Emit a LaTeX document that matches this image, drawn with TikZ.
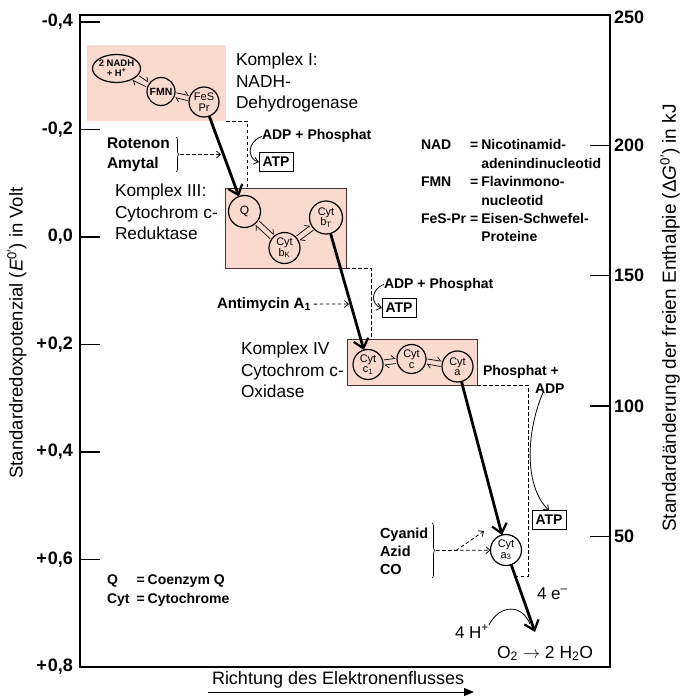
\documentclass[tikz,border=0pt]{standalone}
\usepackage{fontspec}
\setmainfont{Liberation Sans}
\usetikzlibrary{arrows.meta,decorations.pathreplacing,shapes.geometric}
\definecolor{pinkfill}{RGB}{250,217,207}
\definecolor{boxline}{RGB}{70,50,50}
\begin{document}
\begin{tikzpicture}[x=1pt,y=-1pt,
  every node/.style={inner sep=0pt,outer sep=0pt},
  kbox/.style={rectangle, fill=pinkfill, draw=boxline, line width=0.9pt},
  mol/.style={circle, draw, line width=1.2pt, inner sep=0pt, align=center, font=\fontsize{11}{10.5}\selectfont},
  flow/.style={line width=2.8pt, -{Straight Barb[length=9pt,width=15pt,line width=2.2pt]}},
  eqh/.style={line width=0.7pt, -{Straight Barb[harpoon,length=3.5pt,width=7pt,line width=0.7pt]}, shorten <=1.5pt, shorten >=1.5pt},
  dline/.style={line width=0.8pt, dash pattern=on 3.5pt off 2.5pt},
  darrow/.style={dline, -{Straight Barb[length=4pt,width=7pt,line width=0.8pt]}},
  thinarrow/.style={line width=0.8pt, -{Straight Barb[length=4.5pt,width=7pt,line width=0.8pt]}},
  boldlab/.style={font=\fontsize{14}{18}\selectfont\bfseries},
  komp/.style={font=\fontsize{17.3}{21.5}\selectfont, align=left},
  atpbox/.style={draw, line width=0.9pt, minimum width=34pt, minimum height=19pt, font=\fontsize{14}{14}\selectfont\bfseries},
  axtick/.style={line width=1.1pt},
  ticklab/.style={font=\fontsize{18}{18}\selectfont\bfseries},
  bracestyle/.style={decorate, decoration={brace, amplitude=3pt}, line width=0.6pt}
]
\useasboundingbox (0,0) rectangle (685,700);

% frame
\draw[line width=1.2pt] (80,15) rectangle (610,667);

% left ticks
\foreach \y/\l [count=\i] in {22/{-0,4},129.5/{-0,2},237/{0,0},344.5/{+\kern1pt0,2},452/{+\kern1pt0,4},559.5/{+\kern1pt0,6},667/{+\kern1pt0,8}} {
  \draw[axtick] (80,\y) -- (100,\y);
  \node[ticklab, anchor=east] (lt\i) at (73,\y) {\l};
}
% right ticks
\node[ticklab, anchor=west] (rt0) at (614,17) {250};
\foreach \y/\l [count=\i] in {145.3/200,275.7/150,406/100,536.4/50} {
  \draw[axtick] (590,\y) -- (610,\y);
  \node[ticklab, anchor=west] (rt\i) at (614,\y) {\l};
}

% axis titles
\node[rotate=90, font=\fontsize{18.5}{20}\selectfont] (ylab) at (17,333) {Standardredoxpotenzial (\textit{E}\textsuperscript{0′}) in Volt};
\node[rotate=90, font=\fontsize{19}{20}\selectfont] (ylab2) at (670,318) {Standardänderung der freien Enthalpie (Δ\textit{G}\textsuperscript{0′}) in kJ};

% complex boxes
\node[kbox, draw=none, minimum width=139pt, minimum height=76pt] (k1box) at (156.5,83) {};
\node[kbox, minimum width=121pt, minimum height=80pt] (k3box) at (285.5,228) {};
\node[kbox, minimum width=130pt, minimum height=46pt] (k4box) at (412,362) {};

% molecules
\node[ellipse, draw, line width=1.2pt, minimum width=48pt, minimum height=28pt, inner sep=-2.5pt, align=center, font=\fontsize{9.5}{10}\selectfont\bfseries] (nadh) at (116.5,68.5) {2 NADH\\+ H\textsuperscript{+}};
\node[mol, minimum size=28pt, font=\fontsize{10.5}{10.5}\selectfont\bfseries] (fmn) at (161,91.5) {FMN};
\node[mol, minimum size=30pt] (fes) at (204,102) {FeS\\Pr};
\node[mol, minimum size=32pt, font=\fontsize{12}{12}\selectfont] (q) at (244.5,211.5) {Q};
\node[mol, minimum size=31pt] (bk) at (284.5,248) {Cyt\\b\textsubscript{K}};
\node[mol, minimum size=33pt] (bt) at (326,217.5) {Cyt\\b\textsubscript{T}};
\node[mol, minimum size=30pt] (c1) at (368,364.5) {Cyt\\c\textsubscript{1}};
\node[mol, minimum size=29pt] (c) at (411.5,359) {Cyt\\c};
\node[mol, minimum size=31pt] (a) at (457.5,366.5) {Cyt\\a};
\node[mol, minimum size=31pt] (a3) at (506,550) {Cyt\\a\textsubscript{3}};

% equilibrium harpoons
\draw[eqh] (nadh.-17) -- (fmn.143);
\draw[eqh] (fmn.163) -- (nadh.-37);
\draw[eqh] (fmn.-4) -- (fes.156);
\draw[eqh] (fes.176) -- (fmn.-24);
\draw[eqh] (q.-32) -- (bk.128);
\draw[eqh] (bk.148) -- (q.-52);
\draw[eqh] (bk.46) -- (bt.206);
\draw[eqh] (bt.226) -- (bk.26);
\draw[eqh] (c1.17) -- (c.177);
\draw[eqh] (c.197) -- (c1.-3);
\draw[eqh] (c.1) -- (a.161);
\draw[eqh] (a.181) -- (c.-19);

% complex labels
\node[komp, anchor=north west] (k1t) at (236,53) {Komplex I:\\NADH-\\Dehydrogenase};
\node[komp, anchor=north west] (k3t) at (115,184) {Komplex III:\\Cytochrom c-\\Reduktase};
\node[komp, anchor=north west] (k4t) at (241,342) {Komplex IV\\Cytochrom c-\\Oxidase};

% dashed brackets
\coordinate (d1) at (247,121);
\draw[dline] (k1box.south east) -- (d1) -- (d1 |- k3box.north);
\coordinate (d2) at (371,268);
\draw[dline] (k3box.south east) -- (d2) -- (d2 |- k4box.north);
\coordinate (d3) at (528,385);
\coordinate (d3b) at (528,576);
\coordinate (d3c) at (517,576);
\draw[dline] (k4box.south east) -- (d3) -- (d3b) -- (d3c);

% electron flow
\coordinate (o2tip) at (535,632);
\draw[flow] (fes) -- (q);
\draw[flow] (bt) -- (c1);
\draw[flow] (a) -- (a3);
\draw[flow] (a3) -- (o2tip);

% ADP / ATP
\node[boldlab, anchor=base west] (adp1) at (262,140) {ADP + Phosphat};
\node[atpbox] (atp1) at (276,162) {ATP};
\draw[thinarrow] (adp1.west) .. controls +(-15,5) and +(-12,-3) .. (atp1.west);
\node[boldlab, anchor=base west] (adp2) at (384,288) {ADP + Phosphat};
\node[atpbox] (atp2) at (399,308) {ATP};
\draw[thinarrow] (adp2.west) .. controls +(-14,5) and +(-11,-3) .. (atp2.west);
\node[boldlab, anchor=base west] (phos3) at (483,375) {Phosphat +};
\node[boldlab, anchor=base west] (adp3) at (535,393) {ADP};
\node[atpbox] (atp3) at (549,520) {ATP};
\draw[thinarrow] ([xshift=-7pt]adp3.south) .. controls (527,430) and (523,485) .. (atp3.north);

% inhibitors
\node[anchor=north west, align=left, font=\fontsize{15.5}{20}\selectfont\bfseries] (rot) at (107,137.5) {Rotenon\\Amytal};
\coordinate (rb1) at (176,137);
\coordinate (rb2) at (176,172);
\draw[bracestyle] (rb1) -- (rb2);
\coordinate (rtip) at (180,154.5);
\coordinate (rtarget) at (221,154.5);
\draw[darrow] (rtip) -- (rtarget);

\node[anchor=base west, font=\fontsize{15}{15}\selectfont\bfseries] (anti) at (217,308) {Antimycin A\textsubscript{1}};
\coordinate (atarget) at (349,304);
\draw[darrow] ([xshift=3pt]anti.east) -- (atarget);

\node[anchor=north west, align=left, font=\fontsize{14.5}{18}\selectfont\bfseries] (cyan) at (380,528) {Cyanid\\Azid\\CO};
\coordinate (cb1) at (432,523);
\coordinate (cb2) at (432,578);
\draw[bracestyle] (cb1) -- (cb2);
\coordinate (ctip) at (436,550.5);
\draw[darrow] (ctip) -- (a3);
\coordinate (cbr) at (456,550.5);
\coordinate (cbr2) at (484,531);
\draw[darrow] (cbr) -- (cbr2);

% products
\node[anchor=base west, font=\fontsize{17}{17}\selectfont] (e4) at (537,599) {4 e\textsuperscript{–}};
\node[anchor=base west, font=\fontsize{17}{17}\selectfont] (h4) at (455,638) {4 H\textsuperscript{+}};
\coordinate (h4end) at (530,624);
\draw[line width=0.8pt] (h4.north east) .. controls (500,604) and (522,604) .. (h4end);
\node[anchor=base west, font=\fontsize{17.5}{17.5}\selectfont] (o2) at (497,658) {O\textsubscript{2} $\rightarrow$ 2 H\textsubscript{2}O};

% legends
\node[anchor=north west, font=\fontsize{14}{18.4}\selectfont\bfseries] (legend1) at (421,137) {\begin{tabular}{@{}l@{\hspace{4pt}}l@{\hspace{3pt}}l@{}}
NAD & = & Nicotinamid-\\
 & & adenindinucleotid\\
FMN & = & Flavinmono-\\
 & & nucleotid\\
FeS-Pr & = & Eisen-Schwefel-\\
 & & Proteine
\end{tabular}};
\node[anchor=north west, font=\fontsize{14}{18.4}\selectfont\bfseries] (legend2) at (107,572) {\begin{tabular}{@{}l@{\hspace{7pt}}l@{\hspace{3pt}}l@{}}
Q & = & Coenzym Q\\
Cyt & = & Cytochrome
\end{tabular}};

% direction
\node[anchor=base west, font=\fontsize{18}{18}\selectfont] (richt) at (212,684) {Richtung des Elektronenflusses};
\coordinate (ra) at (208,692);
\coordinate (rb) at (474,692);
\draw[line width=1pt, -{Triangle[length=10pt,width=8pt]}] (ra) -- (rb);
\end{tikzpicture}
\end{document}
